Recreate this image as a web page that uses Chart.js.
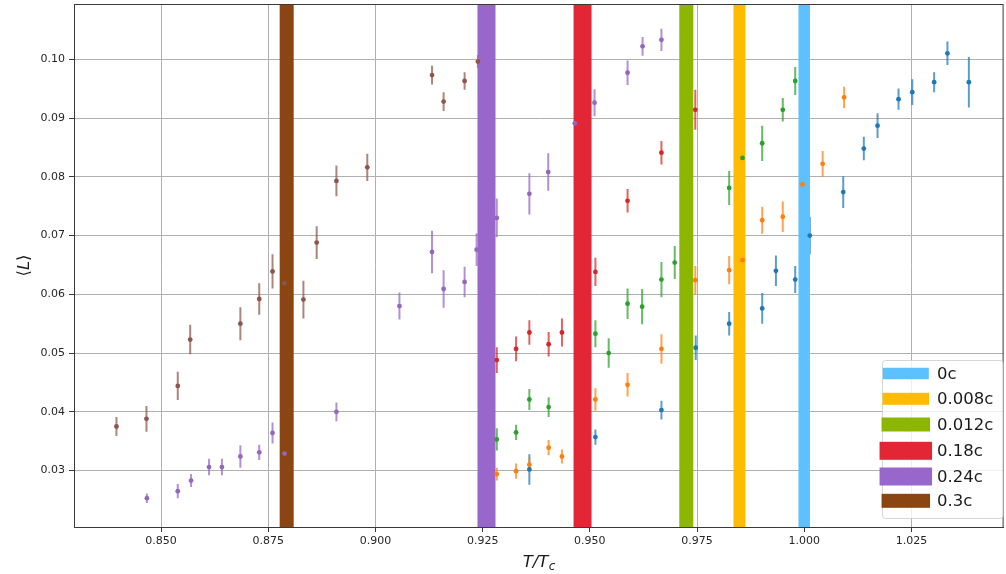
<!DOCTYPE html>
<html>
<head>
<meta charset="utf-8">
<script src="https://cdn.jsdelivr.net/npm/chart.js@4"></script>
<style>
  html, body { margin: 0; padding: 0; background: #ffffff; }
  #wrap { width: 1006px; height: 574px; position: relative; }
</style>
</head>
<body>
<div id="wrap"><canvas id="chart" width="1006" height="574"></canvas></div>
<script>
// Mean L versus reduced temperature T/Tc, one series per speed c
const T_0c   = [0.9359, 0.9513, 0.9667, 0.9747, 0.9825, 0.9902, 0.9934, 0.9979, 1.0013, 1.0091, 1.0139, 1.0171, 1.0220, 1.0252, 1.0303, 1.0334, 1.0384];
const L_0c   = [0.0302, 0.0357, 0.0403, 0.0509, 0.0550, 0.0576, 0.0640, 0.0625, 0.0700, 0.0774, 0.0848, 0.0887, 0.0932, 0.0944, 0.0961, 0.1010, 0.0961];
const E_0c   = [0.0026, 0.0013, 0.0016, 0.0021, 0.0020, 0.0026, 0.0026, 0.0023, 0.0032, 0.0027, 0.0020, 0.0021, 0.0018, 0.0022, 0.0017, 0.0020, 0.0043];

const T_008c = [0.9283, 0.9328, 0.9359, 0.9404, 0.9435, 0.9513, 0.9588, 0.9667, 0.9746, 0.9825, 0.9856, 0.9902, 0.9950, 0.9996, 1.0043, 1.0093];
const L_008c = [0.0294, 0.0299, 0.0310, 0.0339, 0.0324, 0.0421, 0.0446, 0.0507, 0.0624, 0.0641, 0.0658, 0.0726, 0.0732, 0.0787, 0.0822, 0.0935];
const E_008c = [0.0011, 0.0013, 0.0013, 0.0013, 0.0012, 0.0019, 0.0020, 0.0025, 0.0024, 0.0024, 0.0000, 0.0023, 0.0026, 0.0000, 0.0022, 0.0018];

const T_012c = [0.9283, 0.9328, 0.9359, 0.9404, 0.9513, 0.9544, 0.9588, 0.9622, 0.9667, 0.9698, 0.9825, 0.9856, 0.9902, 0.9950, 0.9979];
const L_012c = [0.0353, 0.0365, 0.0421, 0.0408, 0.0533, 0.0500, 0.0584, 0.0579, 0.0625, 0.0654, 0.0781, 0.0832, 0.0857, 0.0914, 0.0963];
const E_012c = [0.0019, 0.0013, 0.0018, 0.0017, 0.0023, 0.0025, 0.0026, 0.0030, 0.0030, 0.0028, 0.0029, 0.0000, 0.0030, 0.0020, 0.0024];

const T_018c = [0.9283, 0.9328, 0.9359, 0.9404, 0.9435, 0.9513, 0.9588, 0.9667, 0.9746];
const L_018c = [0.0488, 0.0507, 0.0535, 0.0515, 0.0535, 0.0638, 0.0759, 0.0841, 0.0914];
const E_018c = [0.0022, 0.0021, 0.0021, 0.0021, 0.0024, 0.0024, 0.0020, 0.0020, 0.0034];

const T_024c = [0.8467, 0.8539, 0.8570, 0.8612, 0.8642, 0.8685, 0.8729, 0.8760, 0.8788, 0.8909, 0.9056, 0.9132, 0.9159, 0.9208, 0.9236, 0.9283, 0.9359, 0.9403, 0.9465, 0.9511, 0.9588, 0.9623, 0.9667];
const L_024c = [0.0253, 0.0265, 0.0283, 0.0306, 0.0306, 0.0324, 0.0331, 0.0364, 0.0329, 0.0400, 0.0580, 0.0672, 0.0609, 0.0621, 0.0676, 0.0730, 0.0771, 0.0808, 0.0891, 0.0926, 0.0977, 0.1022, 0.1033];
const E_024c = [0.0008, 0.0012, 0.0011, 0.0014, 0.0014, 0.0019, 0.0013, 0.0018, 0.0000, 0.0016, 0.0023, 0.0036, 0.0032, 0.0026, 0.0028, 0.0033, 0.0035, 0.0032, 0.0000, 0.0023, 0.0021, 0.0016, 0.0019];

const T_03c  = [0.8396, 0.8466, 0.8539, 0.8568, 0.8685, 0.8729, 0.8760, 0.8788, 0.8832, 0.8863, 0.8909, 0.8981, 0.9132, 0.9159, 0.9208, 0.9239];
const L_03c  = [0.0375, 0.0388, 0.0444, 0.0523, 0.0550, 0.0592, 0.0639, 0.0619, 0.0591, 0.0688, 0.0793, 0.0816, 0.0973, 0.0928, 0.0963, 0.0996];
const E_03c  = [0.0016, 0.0022, 0.0024, 0.0025, 0.0028, 0.0027, 0.0029, 0.0000, 0.0032, 0.0028, 0.0026, 0.0023, 0.0016, 0.0016, 0.0015, 0.0011];

// Transition temperatures marked by vertical bands
const bandLabels = ['0c', '0.008c', '0.012c', '0.18c', '0.24c', '0.3c'];
const bandTc     = [1.0000, 0.9849, 0.9725, 0.9483, 0.9259, 0.8793];

// Axis ticks
const xTicks = [0.850, 0.875, 0.900, 0.925, 0.950, 0.975, 1.000, 1.025];
const yTicks = [0.03, 0.04, 0.05, 0.06, 0.07, 0.08, 0.09, 0.10];

// Styling
const seriesColors = ['#1f77b4', '#ff7f0e', '#2ca02c', '#d62728', '#9467bd', '#8c564b'];
const bandColors   = ['#5ec1ff', '#ffbb00', '#8db600', '#e32636', '#9966cc', '#8b4513'];
const bandWidths   = [11.5, 12, 14, 18, 18, 14];

const seriesT = [T_0c, T_008c, T_012c, T_018c, T_024c, T_03c];
const seriesL = [L_0c, L_008c, L_012c, L_018c, L_024c, L_03c];
const seriesE = [E_0c, E_008c, E_012c, E_018c, E_024c, E_03c];

function hexA(hex, a) {
  const n = parseInt(hex.slice(1), 16);
  return `rgba(${(n >> 16) & 255},${(n >> 8) & 255},${n & 255},${a})`;
}

const datasets = seriesT.map((T, i) => ({
  label: bandLabels[i],
  data: T.map((t, k) => ({ x: t, y: seriesL[i][k], err: seriesE[i][k] })),
  backgroundColor: seriesColors[i],
  borderColor: seriesColors[i],
  pointRadius: 2.4,
  pointBorderWidth: 0,
  pointHoverRadius: 2.4,
  showLine: false
}));

// Error bars go underneath the bands; the bands go underneath the markers
const barsAndBands = {
  id: 'barsAndBands',
  beforeDatasetsDraw(chart) {
    const { ctx, chartArea: a, scales: { x, y } } = chart;
    ctx.save();
    ctx.beginPath();
    ctx.rect(a.left, a.top, a.right - a.left, a.bottom - a.top);
    ctx.clip();
    chart.data.datasets.forEach((ds, i) => {
      ctx.strokeStyle = hexA(seriesColors[i], 0.72);
      ctx.lineWidth = 2;
      ctx.lineCap = 'butt';
      ds.data.forEach(p => {
        if (!p.err) return;
        const px = x.getPixelForValue(p.x);
        ctx.beginPath();
        ctx.moveTo(px, y.getPixelForValue(p.y - p.err));
        ctx.lineTo(px, y.getPixelForValue(p.y + p.err));
        ctx.stroke();
      });
    });
    bandTc.forEach((tc, i) => {
      const px = x.getPixelForValue(tc);
      ctx.fillStyle = bandColors[i];
      ctx.fillRect(px - bandWidths[i] / 2, a.top, bandWidths[i], a.bottom - a.top);
    });
    ctx.restore();
  },
  afterDraw(chart) {
    const { ctx, chartArea: a } = chart;
    ctx.save();
    // frame
    ctx.strokeStyle = '#3a3a3a';
    ctx.lineWidth = 1;
    ctx.strokeRect(a.left + 0.5, a.top + 0.5, a.right - a.left - 1, a.bottom - a.top);

    // legend box
    const lx = 882.5, ly = 360.5, lw = 120.5, lh = 158;
    ctx.beginPath();
    ctx.roundRect(lx, ly, lw, lh, 3);
    ctx.fillStyle = 'rgba(255,255,255,0.8)';
    ctx.fill();
    ctx.strokeStyle = 'rgba(204,204,204,0.8)';
    ctx.stroke();
    const rowY = [373.5, 398.8, 424.5, 450.8, 476.5, 500.8];
    ctx.font = '16.5px "DejaVu Sans"';
    ctx.textBaseline = 'middle';
    ctx.textAlign = 'left';
    bandLabels.forEach((lab, i) => {
      const w = 34.5 + bandWidths[i], h = bandWidths[i];
      ctx.fillStyle = bandColors[i];
      ctx.fillRect(905.8 - w / 2, rowY[i] - h / 2, w, h);
      ctx.fillStyle = '#1a1a1a';
      ctx.fillText(lab, 937, rowY[i] + 1);
    });

    // x axis title: T/T_c
    ctx.fillStyle = '#1a1a1a';
    ctx.textBaseline = 'alphabetic';
    ctx.font = 'italic 16.5px "DejaVu Sans"';
    const main = 'T/T';
    const mw = ctx.measureText(main).width;
    ctx.font = 'italic 12px "DejaVu Sans"';
    const sw = ctx.measureText('c').width;
    const cx = (a.left + a.right) / 2 - (mw + sw) / 2;
    ctx.font = 'italic 16.5px "DejaVu Sans"';
    ctx.fillText(main, cx, 567);
    ctx.font = 'italic 12px "DejaVu Sans"';
    ctx.fillText('c', cx + mw + 0.5, 570);

    // y axis title: <L>
    ctx.translate(29, (a.top + a.bottom) / 2);
    ctx.rotate(-Math.PI / 2);
    ctx.font = '16.5px "DejaVu Sans"';
    const lb = '\u27E8', rb = '\u27E9';
    const w1 = ctx.measureText(lb).width, w3 = ctx.measureText(rb).width;
    ctx.font = 'italic 16.5px "DejaVu Sans"';
    const w2 = ctx.measureText('L').width;
    let sx = -(w1 + w2 + w3) / 2;
    ctx.font = '16.5px "DejaVu Sans"';
    ctx.fillText(lb, sx, 0);
    ctx.font = 'italic 16.5px "DejaVu Sans"';
    ctx.fillText('L', sx + w1, 0);
    ctx.font = '16.5px "DejaVu Sans"';
    ctx.fillText(rb, sx + w1 + w2, 0);
    ctx.restore();
  }
};

function noEdgePadding(s) {
  s.paddingTop = 0;
  s.paddingBottom = 0;
  s.paddingLeft = 0;
  s.paddingRight = 0;
}

new Chart(document.getElementById('chart'), {
  type: 'scatter',
  data: { datasets },
  options: {
    responsive: false,
    animation: false,
    devicePixelRatio: 1,
    layout: { padding: { top: 4, right: 2, left: 0, bottom: 0 } },
    plugins: { legend: { display: false }, tooltip: { enabled: false } },
    scales: {
      x: {
        type: 'linear',
        min: 0.8297,
        max: 1.0465,
        afterBuildTicks: s => { s.ticks = xTicks.map(v => ({ value: v })); },
        afterFit: s => { s.height = 47; noEdgePadding(s); },
        ticks: {
          callback: v => Number(v).toFixed(3),
          font: { family: 'DejaVu Sans', size: 11 },
          color: '#262626',
          padding: 3,
          maxRotation: 0,
          autoSkip: false
        },
        grid: { color: '#b0b0b0', lineWidth: 1, tickLength: 5, tickColor: '#3a3a3a' },
        border: { display: true, color: '#3a3a3a', width: 1 }
      },
      y: {
        type: 'linear',
        min: 0.0204,
        max: 0.1094,
        afterBuildTicks: s => { s.ticks = yTicks.map(v => ({ value: v })); },
        afterFit: s => { s.width = 74; noEdgePadding(s); },
        ticks: {
          callback: v => Number(v).toFixed(2),
          font: { family: 'DejaVu Sans', size: 11 },
          color: '#262626',
          padding: 4,
          autoSkip: false
        },
        grid: { color: '#b0b0b0', lineWidth: 1, tickLength: 5, tickColor: '#3a3a3a' },
        border: { display: true, color: '#3a3a3a', width: 1 }
      }
    }
  },
  plugins: [barsAndBands]
});
</script>
</body>
</html>
